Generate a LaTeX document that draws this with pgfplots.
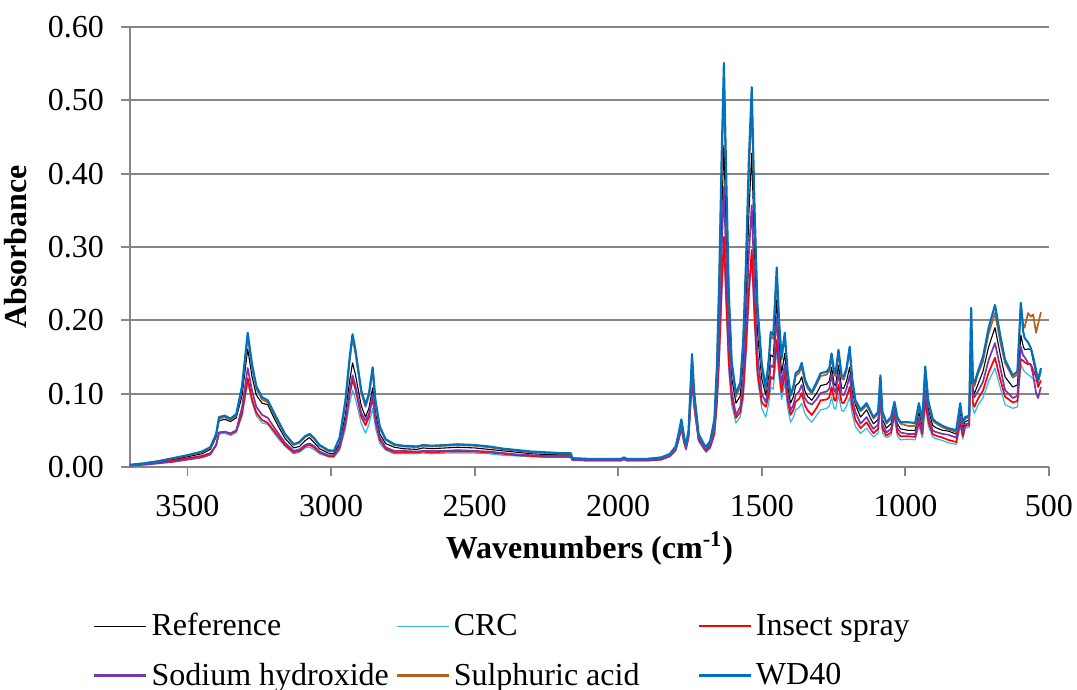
\documentclass[border=0pt]{standalone}
\usepackage{pgfplots}
\pgfplotsset{compat=1.18}
\usepackage{pgfplotstable}
\usepackage{fontspec}
\setmainfont{Liberation Serif}

\definecolor{axgray}{RGB}{134,134,134}
\definecolor{crcblue}{RGB}{51,181,235}
\definecolor{insred}{RGB}{255,0,0}
\definecolor{naohpurple}{RGB}{120,56,170}
\definecolor{hbrown}{RGB}{180,95,30}
\definecolor{wdblue}{RGB}{0,112,192}

% FTIR absorbance spectra: wavenumber (cm^-1) and one column per sample
\pgfplotstableread{
x     wd    h2    ref   naoh  ins   crc
3700  .003  .003  .003  .002  .002  .002
3650  .005  .005  .004  .003  .004  .004
3600  .008  .008  .007  .005  .006  .006
3550  .012  .012  .010  .007  .009  .008
3500  .016  .016  .014  .010  .012  .011
3450  .021  .020  .018  .013  .015  .015
3420  .027  .026  .024  .017  .019  .018
3400  .045  .044  .041  .030  .030  .029
3390  .068  .066  .063  .047  .047  .045
3370  .070  .068  .065  .048  .048  .046
3350  .066  .064  .062  .046  .045  .043
3330  .072  .070  .067  .050  .049  .047
3310  .110  .107  .097  .081  .073  .069
3290  .183  .178  .161  .135  .121  .115
3275  .140  .136  .123  .104  .092  .088
3260  .110  .107  .098  .082  .074  .070
3240  .095  .092  .087  .071  .064  .060
3220  .091  .088  .085  .067  .060  .058
3200  .075  .073  .068  .055  .050  .047
3180  .060  .058  .053  .044  .040  .037
3160  .045  .044  .039  .033  .030  .028
3130  .031  .030  .026  .022  .020  .018
3110  .034  .033  .028  .024  .022  .020
3090  .042  .041  .036  .030  .028  .026
3075  .045  .044  .040  .032  .030  .027
3060  .040  .039  .034  .029  .027  .024
3040  .030  .029  .025  .021  .020  .018
3010  .023  .022  .019  .016  .015  .014
2990  .022  .021  .018  .016  .015  .013
2970  .040  .039  .032  .028  .026  .023
2950  .090  .087  .071  .063  .059  .052
2935  .150  .145  .118  .104  .099  .087
2925  .181  .176  .142  .125  .119  .105
2915  .160  .155  .126  .111  .106  .093
2895  .105  .102  .084  .074  .069  .060
2880  .085  .082  .068  .063  .057  .046
2868  .100  .097  .080  .072  .068  .058
2855  .136  .132  .108  .100  .096  .080
2845  .090  .087  .073  .066  .062  .053
2830  .055  .053  .045  .040  .037  .032
2810  .038  .037  .032  .027  .025  .023
2780  .031  .030  .027  .022  .020  .018
2750  .029  .028  .025  .022  .020  .018
2700  .028  .027  .024  .021  .020  .018
2680  .030  .029  .026  .022  .021  .019
2650  .029  .028  .025  .022  .020  .018
2600  .030  .029  .026  .022  .021  .019
2560  .031  .030  .027  .023  .021  .019
2500  .030  .029  .026  .022  .021  .019
2450  .028  .027  .024  .021  .020  .018
2400  .025  .024  .022  .019  .018  .016
2350  .023  .022  .020  .017  .016  .015
2300  .021  .020  .018  .016  .015  .014
2250  .020  .019  .017  .015  .014  .013
2200  .019  .018  .017  .015  .014  .013
2165  .019  .018  .017  .015  .014  .013
2160  .012  .012  .011  .010  .010  .009
2100  .011  .011  .010  .009  .009  .008
2040  .011  .011  .010  .009  .009  .008
1990  .011  .011  .010  .009  .009  .008
1980  .013  .013  .012  .011  .011  .010
1970  .011  .011  .010  .009  .009  .008
1900  .011  .011  .010  .009  .009  .008
1850  .013  .013  .012  .011  .010  .010
1820  .018  .017  .016  .015  .015  .014
1800  .028  .027  .025  .024  .023  .022
1790  .045  .043  .040  .038  .037  .035
1780  .065  .062  .057  .055  .053  .051
1770  .040  .038  .035  .034  .033  .031
1764  .030  .029  .026  .026  .025  .023
1755  .050  .048  .044  .043  .041  .039
1743  .154  .146  .130  .125  .120  .115
1735  .100  .095  .088  .085  .082  .078
1720  .045  .043  .040  .038  .037  .035
1700  .030  .029  .026  .025  .025  .023
1694  .028  .027  .025  .024  .022  .020
1680  .035  .033  .031  .029  .027  .025
1665  .065  .062  .056  .051  .046  .043
1656  .140  .134  .116  .103  .090  .083
1648  .260  .247  .210  .185  .155  .143
1640  .420  .400  .338  .293  .242  .228
1632  .551  .523  .439  .382  .314  .298
1624  .400  .380  .320  .280  .232  .218
1615  .240  .228  .196  .170  .143  .132
1605  .145  .139  .122  .104  .094  .085
1590  .100  .096  .087  .071  .067  .060
1575  .115  .110  .097  .082  .075  .068
1565  .170  .162  .140  .119  .100  .093
1555  .280  .266  .228  .193  .162  .152
1545  .420  .400  .345  .290  .240  .228
1535  .518  .494  .428  .357  .296  .284
1525  .350  .333  .290  .243  .203  .192
1515  .220  .210  .183  .153  .130  .120
1500  .140  .134  .120  .100  .088  .080
1486  .109  .105  .098  .088  .082  .068
1475  .150  .145  .126  .113  .100  .089
1469  .184  .178  .153  .139  .123  .109
1460  .180  .175  .150  .136  .120  .106
1448  .272  .262  .228  .205  .173  .160
1440  .200  .194  .170  .152  .135  .122
1431  .150  .146  .128  .113  .102  .092
1420  .183  .178  .155  .140  .128  .115
1410  .130  .127  .112  .100  .091  .081
1400  .098  .097  .087  .077  .071  .061
1390  .110  .107  .096  .085  .078  .068
1382  .128  .124  .111  .098  .089  .078
1370  .132  .128  .115  .103  .093  .081
1361  .142  .137  .123  .112  .101  .087
1350  .120  .116  .104  .094  .084  .073
1340  .110  .107  .096  .088  .077  .067
1326  .102  .100  .091  .085  .071  .061
1310  .115  .112  .100  .092  .080  .070
1295  .128  .124  .111  .101  .091  .078
1274  .130  .126  .113  .103  .092  .080
1265  .135  .131  .117  .107  .095  .083
1257  .155  .150  .136  .127  .109  .095
1248  .130  .126  .113  .104  .092  .080
1243  .128  .124  .111  .102  .090  .079
1233  .160  .155  .139  .128  .112  .098
1222  .125  .121  .108  .099  .088  .077
1215  .123  .119  .107  .098  .087  .076
1205  .135  .131  .117  .107  .095  .083
1194  .164  .159  .136  .125  .109  .095
1185  .120  .116  .103  .093  .083  .072
1174  .091  .088  .085  .075  .064  .055
1156  .078  .076  .068  .059  .053  .046
1135  .087  .084  .078  .068  .061  .053
1120  .075  .073  .065  .057  .051  .045
1111  .068  .066  .059  .052  .046  .041
1095  .075  .073  .065  .058  .052  .046
1087  .125  .121  .107  .100  .100  .090
1080  .075  .073  .065  .058  .052  .046
1066  .061  .059  .053  .047  .043  .040
1050  .068  .066  .059  .052  .047  .043
1038  .089  .086  .080  .078  .075  .068
1028  .068  .066  .059  .053  .047  .042
1017  .061  .059  .052  .047  .042  .037
990   .061  .056  .050  .045  .042  .038
966   .060  .056  .050  .045  .041  .037
953   .087  .082  .075  .068  .062  .056
941   .064  .061  .055  .049  .045  .040
931   .137  .132  .123  .105  .091  .085
920   .090  .087  .078  .069  .062  .056
905   .066  .064  .057  .050  .045  .041
896   .062  .060  .054  .048  .043  .039
870   .056  .054  .050  .045  .040  .036
851   .053  .051  .049  .044  .037  .033
823   .050  .048  .045  .040  .034  .031
809   .087  .084  .076  .068  .062  .056
800   .060  .058  .053  .047  .042  .038
792   .068  .066  .062  .058  .056  .053
778   .070  .068  .064  .060  .057  .054
771   .217  .210  .190  .180  .170  .160
765   .120  .116  .106  .100  .088  .080
760   .114  .110  .100  .095  .082  .073
746   .132  .128  .114  .104  .094  .085
730   .150  .144  .130  .116  .104  .094
710   .190  .182  .164  .146  .129  .117
688   .221  .210  .190  .169  .149  .135
670   .180  .171  .154  .136  .120  .109
653   .146  .142  .123  .105  .096  .085
626   .125  .122  .109  .094  .088  .080
610   .130  .126  .112  .097  .090  .082
598   .224  .222  .180  .164  .147  .140
590   .185  .195  .165  .152  .145  .133
585   .176  .190  .160  .150  .143  .130
573   .170  .210  .161  .142  .140  .126
563   .162  .205  .160  .139  .140  .123
555   .150  .208  .145  .125  .132  .120
545   .132  .183  .128  .101  .123  .117
538   .118  .195  .115  .094  .109  .116
528   .135  .211  .131  .109  .118  .130
}\spectra

\begin{document}
\begin{tikzpicture}[font=\fontsize{16}{19}\selectfont]
\path[use as bounding box] (-65pt,-111.5pt) rectangle (473.5pt,233.5pt);
\begin{axis}[
  scale only axis, width=459.5pt, height=220pt,
  at={(0,0)}, anchor=south west,
  x dir=reverse, xmin=500, xmax=3700, ymin=0, ymax=0.6,
  xtick={500,1000,...,3500}, ytick={0,0.1,...,0.6},
  axis x line*=bottom, axis y line*=left,
  axis line style={draw=axgray, line width=0.9pt, -},
  tick style={draw=axgray, line width=0.9pt},
  tick align=outside, major tick length=4.5pt,
  ymajorgrids, grid style={draw=axgray, line width=0.9pt},
  /pgf/number format/assume math mode=true,
  xticklabel style={yshift=-6pt, /pgf/number format/1000 sep={}},
  yticklabel style={xshift=-5pt, /pgf/number format/.cd, fixed, fixed zerofill, precision=2},
  xlabel={\textbf{Wavenumbers (cm\textsuperscript{-1})}},
  xlabel style={yshift=-0.5pt},
  ylabel={\textbf{Absorbance}},
  ylabel style={yshift=3.5pt},
  legend columns=3,
  legend cell align=left,
  legend style={draw=none, fill=none, at={(0,0)}, anchor=north west,
    xshift=-18.5pt, yshift=-71pt, inner sep=0pt, row sep=8pt,
    /tikz/every even column/.append style={column sep=0pt}},
  legend image code/.code={\draw[#1] (0pt,0pt) -- (26pt,0pt);},
  every axis plot/.append style={line join=round},
]
\addplot[black, line width=0.55pt] table[x=x, y=ref] {\spectra};
\addlegendentry{\makebox[120pt][l]{Reference}}
\addplot[crcblue, line width=0.6pt] table[x=x, y=crc] {\spectra};
\addlegendentry{\makebox[120pt][l]{CRC}}
\addplot[insred, line width=0.85pt, legend image post style={line width=1.1pt}] table[x=x, y=ins] {\spectra};
\addlegendentry{\makebox[120pt][l]{Insect spray}}
\addplot[naohpurple, line width=0.85pt, legend image post style={line width=1.1pt}] table[x=x, y=naoh] {\spectra};
\addlegendentry{\makebox[120pt][l]{Sodium hydroxide}}
\addplot[hbrown, line width=0.85pt, legend image post style={line width=1.1pt}] table[x=x, y=h2] {\spectra};
\addlegendentry{\makebox[120pt][l]{Sulphuric acid}}
\addplot[wdblue, line width=1.05pt, legend image post style={line width=1.1pt}] table[x=x, y=wd] {\spectra};
\addlegendentry{\makebox[120pt][l]{WD40}}
\end{axis}
\end{tikzpicture}
\end{document}
